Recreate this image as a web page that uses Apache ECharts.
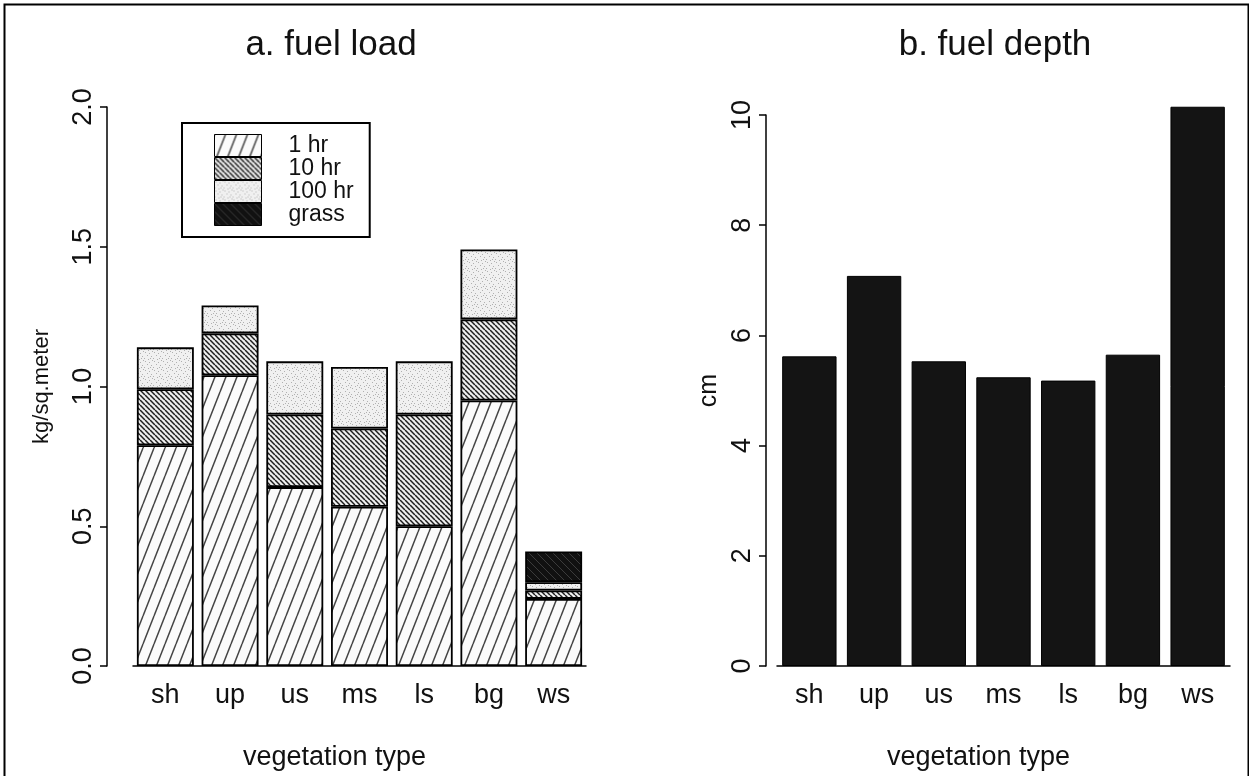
<!DOCTYPE html>
<html>
<head>
<meta charset="utf-8">
<script src="https://cdn.jsdelivr.net/npm/echarts@6/dist/echarts.min.js"></script>
<style>
html,body{margin:0;padding:0;background:#fff;}
#chart{width:1249px;height:776px;}
</style>
</head>
<body>
<div id="chart"></div>
<script>
// ---- data ----
const categories = ['sh', 'up', 'us', 'ms', 'ls', 'bg', 'ws'];
const load1hr   = [0.79, 1.04, 0.64, 0.57, 0.50, 0.95, 0.24];
const load10hr  = [0.20, 0.15, 0.26, 0.28, 0.40, 0.29, 0.03];
const load100hr = [0.15, 0.10, 0.19, 0.22, 0.19, 0.25, 0.03];
const loadGrass = [null, null, null, null, null, null, 0.11];
const depth     = [5.62, 7.08, 5.53, 5.24, 5.18, 5.65, 10.15];
const loadTicks  = ['0.0', '0.5', '1.0', '1.5', '2.0'];
const depthTicks = ['0', '2', '4', '6', '8', '10'];
const legendNames = ['1 hr', '10 hr', '100 hr', 'grass'];

// ---- fill patterns ----
function tile(w, h, draw) {
  const c = document.createElement('canvas');
  c.width = w; c.height = h;
  const g = c.getContext('2d');
  draw(g, w, h);
  return { image: c, repeat: 'repeat' };
}
const pat1hr = tile(11, 28, (g, w, h) => {
  g.fillStyle = '#fbfbfb'; g.fillRect(0, 0, w, h);
  g.strokeStyle = '#444'; g.lineWidth = 1.5;
  for (let k = -1; k <= 1; k++) {
    g.beginPath(); g.moveTo(k * w, h); g.lineTo(k * w + w, 0); g.stroke();
  }
});
const pat10hr = tile(5, 5, (g, w, h) => {
  g.fillStyle = '#eeeeee'; g.fillRect(0, 0, w, h);
  g.strokeStyle = '#1e1e1e'; g.lineWidth = 1.5;
  for (let k = -1; k <= 1; k++) {
    g.beginPath(); g.moveTo(k * w, 0); g.lineTo(k * w + w, h); g.stroke();
  }
});
const pat100hr = tile(9, 9, (g, w, h) => {
  g.fillStyle = '#f0f0f0'; g.fillRect(0, 0, w, h);
  g.fillStyle = '#b0b0b0';
  [[1,1],[5,2],[3,4],[7,5],[0,7],[4,8],[8,0],[6,7]].forEach(p => g.fillRect(p[0], p[1], 1, 1));
});
const patGrass = tile(8, 8, (g, w, h) => {
  g.fillStyle = '#111'; g.fillRect(0, 0, w, h);
  g.strokeStyle = '#3c3c3c'; g.lineWidth = 1;
  g.beginPath(); g.moveTo(0, 0); g.lineTo(w, h); g.stroke();
});

const FONT = '"Liberation Sans", Arial, Helvetica, sans-serif';
const INK = '#111';

const chart = echarts.init(document.getElementById('chart'), null, { renderer: 'canvas' });

function stackSeries(name, data, fill) {
  return {
    name: name, type: 'bar', stack: 'load', xAxisIndex: 0, yAxisIndex: 0,
    data: data, barCategoryGap: '12%',
    itemStyle: { color: fill, borderColor: '#000', borderWidth: 1.8 },
    emphasis: { disabled: true }
  };
}

const axisLabelStyle = { color: INK, fontFamily: FONT, fontSize: 27 };

const option = {
  backgroundColor: '#fff',
  animation: false,
  graphic: [{
    type: 'rect', left: 2, top: 2, silent: true,
    shape: { width: 1244, height: 790 },
    style: { fill: 'none', stroke: '#000', lineWidth: 2 }
  }],
  title: [
    { text: 'a. fuel load', left: 326, top: 23, textAlign: 'center',
      textStyle: { fontFamily: FONT, fontSize: 35, fontWeight: 'normal', color: INK } },
    { text: 'b. fuel depth', left: 990, top: 23, textAlign: 'center',
      textStyle: { fontFamily: FONT, fontSize: 35, fontWeight: 'normal', color: INK } }
  ],
  legend: {
    data: legendNames, orient: 'vertical', left: 182, top: 123,
    padding: [11, 16, 11, 32], itemGap: 0, itemWidth: 47, itemHeight: 22,
    icon: 'rect', selectedMode: false,
    borderColor: '#000', borderWidth: 2,
    itemStyle: { borderColor: '#000', borderWidth: 1 },
    textStyle: { fontFamily: FONT, fontSize: 23, color: INK, padding: [0, 0, 0, 22], lineHeight: 22 }
  },
  grid: [
    { left: 133, right: 663, top: 107, bottom: 109 },
    { left: 777, right: 19, top: 115, bottom: 109 }
  ],
  xAxis: [0, 1].map(i => ({
    type: 'category', gridIndex: i, data: categories,
    axisTick: { show: false },
    axisLine: { lineStyle: { color: '#000', width: 1.5 } },
    axisLabel: Object.assign({ margin: 16 }, axisLabelStyle),
    name: 'vegetation type', nameLocation: 'middle', nameGap: 78,
    nameTextStyle: { fontFamily: FONT, fontSize: 27, color: INK, padding: [0, 50, 0, 0] }
  })),
  yAxis: [
    {
      type: 'value', gridIndex: 0, min: 0, max: 2, interval: 0.5, offset: 26,
      splitLine: { show: false },
      axisLine: { show: true, lineStyle: { color: '#000', width: 1.5 } },
      axisTick: { show: true, length: 7, lineStyle: { color: '#000', width: 1.5 } },
      axisLabel: Object.assign({ rotate: 90, margin: 10,
        formatter: v => loadTicks[Math.round(v / 0.5)] }, axisLabelStyle),
      name: 'kg/sq.meter', nameLocation: 'middle', nameRotate: 90, nameGap: 54,
      nameTextStyle: { fontFamily: FONT, fontSize: 22, color: INK }
    },
    {
      type: 'value', gridIndex: 1, min: 0, max: 10, interval: 2, offset: 11,
      splitLine: { show: false },
      axisLine: { show: true, lineStyle: { color: '#000', width: 1.5 } },
      axisTick: { show: true, length: 7, lineStyle: { color: '#000', width: 1.5 } },
      axisLabel: Object.assign({ rotate: 90, margin: 10,
        formatter: v => depthTicks[Math.round(v / 2)] }, axisLabelStyle),
      name: 'cm', nameLocation: 'middle', nameRotate: 90, nameGap: 44,
      nameTextStyle: { fontFamily: FONT, fontSize: 25, color: INK }
    }
  ],
  series: [
    stackSeries('1 hr', load1hr, pat1hr),
    stackSeries('10 hr', load10hr, pat10hr),
    stackSeries('100 hr', load100hr, pat100hr),
    stackSeries('grass', loadGrass, patGrass),
    {
      name: 'fuel depth', type: 'bar', xAxisIndex: 1, yAxisIndex: 1,
      data: depth, barCategoryGap: '16%', clip: false,
      itemStyle: { color: '#141414', borderColor: '#000', borderWidth: 1 },
      emphasis: { disabled: true }
    }
  ]
};
chart.setOption(option);
</script>
</body>
</html>
